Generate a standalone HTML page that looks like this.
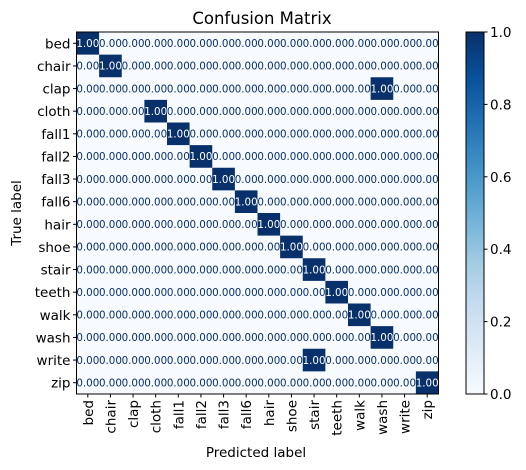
<!DOCTYPE html>
<html><head><meta charset="utf-8"><style>
body{margin:0;background:#fff;}
svg{display:block;font-family:"DejaVu Sans","Liberation Sans",sans-serif;}
</style></head><body>
<svg id="chart" width="526" height="470">
<defs><linearGradient id="blues" x1="0" y1="1" x2="0" y2="0">
<stop offset="0" stop-color="#f7fbff"/><stop offset="0.125" stop-color="#deebf7"/><stop offset="0.25" stop-color="#c6dbef"/><stop offset="0.375" stop-color="#9ecae1"/><stop offset="0.5" stop-color="#6baed6"/><stop offset="0.625" stop-color="#4292c6"/><stop offset="0.75" stop-color="#2171b5"/><stop offset="0.875" stop-color="#08519c"/><stop offset="1" stop-color="#08306b"/></linearGradient></defs>
<text x="262" y="24" font-size="16.5" text-anchor="middle">Confusion Matrix</text>
<g id="cells"></g>
<rect x="76.5" y="32" width="362" height="362" fill="none" stroke="#000" stroke-width="1"/>
<g id="ticks"></g>
<text x="256" y="457" font-size="13.5" text-anchor="middle">Predicted label</text>
<text transform="translate(21,213) rotate(-90)" font-size="13.5" text-anchor="middle">True label</text>
<rect x="466" y="32" width="18" height="362" fill="url(#blues)" stroke="#000" stroke-width="1"/>
<g id="cbticks"></g>
</svg>
<script>
const labels=["bed","chair","clap","cloth","fall1","fall2","fall3","fall6","hair","shoe","stair","teeth","walk","wash","write","zip"];
const predictedIndex=[0,1,13,3,4,5,6,7,8,9,10,11,12,13,10,15];
const cbTicks=[0,0.2,0.4,0.6,0.8,1.0];
const ns="http://www.w3.org/2000/svg";
const L=76.5,T=32,S=362,n=labels.length,c=S/n;
function mk(t,a,p){const e=document.createElementNS(ns,t);for(const k in a)e.setAttribute(k,a[k]);p.appendChild(e);return e;}
const cells=document.getElementById('cells'),ticks=document.getElementById('ticks'),cb=document.getElementById('cbticks');
for(let i=0;i<n;i++)for(let j=0;j<n;j++){
 const v=predictedIndex[i]===j?1:0;
 const r=mk('rect',{x:L+j*c,y:T+i*c,width:c+0.3,height:c+0.3,fill:v?'#08306b':'#f7fbff'},cells);
 
 
 const t=mk('text',{x:L+j*c+c/2,y:T+i*c+c/2+3.7,'font-size':10.3,'text-anchor':'middle',fill:v?'#fff':'#08306b'},cells);
 t.textContent=v.toFixed(2);
 
 
}
for(let i=0;i<n;i++){
 const p=T+i*c+c/2;
 mk('line',{x1:L-3.5,x2:L,y1:p,y2:p,stroke:'#000'},ticks);
 const ty=mk('text',{x:L-6,y:p+5,'font-size':13.5,'text-anchor':'end'},ticks);
 ty.textContent=labels[i];
 
 
 const px=L+i*c+c/2;
 mk('line',{x1:px,x2:px,y1:T+S,y2:T+S+3.5,stroke:'#000'},ticks);
 const tx=mk('text',{transform:`translate(${px+5},${T+S+6}) rotate(-90)`,'font-size':13.5,'text-anchor':'end'},ticks);
 tx.textContent=labels[i];
 
 
}
cbTicks.forEach(v=>{
 const y=T+S-v*S;
 mk('line',{x1:484,x2:487.5,y1:y,y2:y,stroke:'#000'},cb);
 const t=mk('text',{x:490,y:y+5,'font-size':13.5},cb);
 t.textContent=v.toFixed(1);
 
 
});
</script>
</body></html>
